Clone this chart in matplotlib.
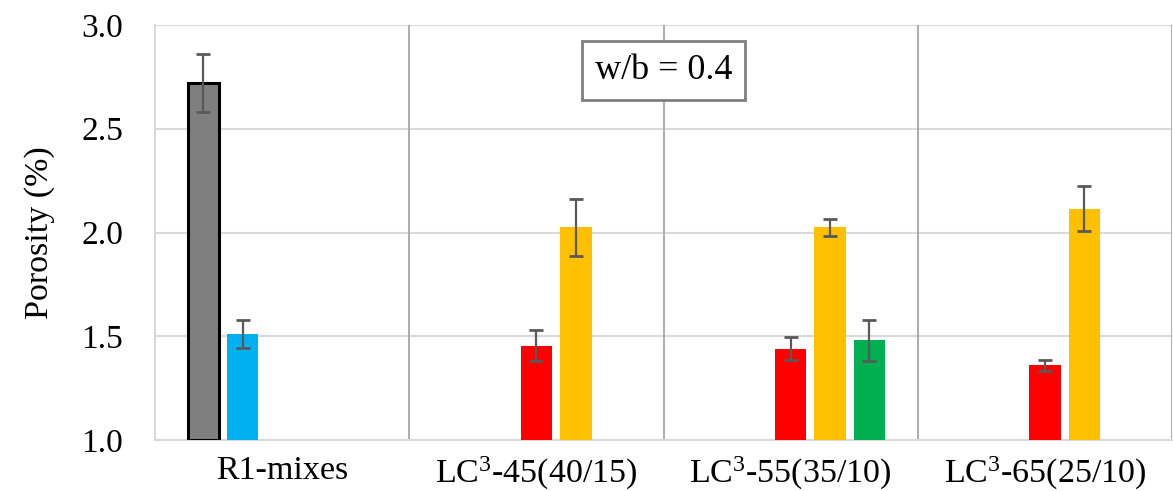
import matplotlib
matplotlib.use("Agg")
import matplotlib.pyplot as plt
import numpy as np

categories = ["R1-mixes", "LC$^{3}$-45(40/15)", "LC$^{3}$-55(35/10)", "LC$^{3}$-65(25/10)"]
nan = np.nan
grey_vals = [2.72, nan, nan, nan]
blue_vals = [1.51, nan, nan, nan]
red_vals = [nan, 1.455, 1.44, 1.36]
yellow_vals = [nan, 2.025, 2.025, 2.115]
green_vals = [nan, nan, 1.48, nan]
grey_err = [0.14, nan, nan, nan]
blue_err = [0.068, nan, nan, nan]
red_err = [nan, 0.075, 0.055, 0.026]
yellow_err = [nan, 0.137, 0.04, 0.107]
green_err = [nan, nan, 0.098, nan]
yticks = [1.0, 1.5, 2.0, 2.5, 3.0]
annotation = "w/b = 0.4"

plt.rcParams['font.family'] = ['Liberation Serif', 'DejaVu Serif']
plt.rcParams['mathtext.fontset'] = 'custom'
plt.rcParams['mathtext.rm'] = 'Liberation Serif'
plt.rcParams['mathtext.it'] = 'Liberation Serif'
plt.rcParams['mathtext.default'] = 'regular'

fig = plt.figure(figsize=(11.73, 4.91), dpi=100)
ax = fig.add_axes([155/1173, 1 - 440/491, 1017/1173, 415/491])

x = np.arange(len(categories))
slot = 0.155
width = 0.124
vals = [grey_vals, blue_vals, red_vals, yellow_vals, green_vals]
errs = [grey_err, blue_err, red_err, yellow_err, green_err]
colors = ["#7f7f7f", "#00b0f0", "#ff0000", "#ffc000", "#00b050"]
edges = ["black", "none", "none", "none", "none"]
lws = [2.2, 0, 0, 0, 0]

ax.set_axisbelow(True)
for i, (v, e, c, ec, lw) in enumerate(zip(vals, errs, colors, edges, lws)):
    pos = x + (i - 2) * slot
    ax.bar(pos, np.array(v) - 1.0, bottom=1.0, width=width, color=c,
           edgecolor=ec, linewidth=lw, zorder=3)
    ax.errorbar(pos, v, yerr=e, fmt="none", ecolor="#595959",
                elinewidth=1.6, capsize=5, capthick=2, zorder=4)

ax.set_xlim(-0.5, 3.5)
ax.set_ylim(1.0, 3.0)
ax.set_yticks(yticks)
ax.set_yticklabels([f"{t:.1f}" for t in yticks])
ax.set_xticks(x)
ax.set_xticklabels(categories)
ax.tick_params(axis='y', length=0, pad=23, labelsize=24)
ax.tick_params(axis='x', length=0, pad=11, labelsize=24.5)
ax.set_ylabel("Porosity (%)", fontsize=24.5, labelpad=19)

ax.yaxis.grid(True, color="#d9d9d9", linewidth=1.5, zorder=0)
for s in ["top", "right"]:
    ax.spines[s].set_visible(False)
for s in ["left", "bottom"]:
    ax.spines[s].set_color("#d9d9d9")
    ax.spines[s].set_linewidth(1.5)
for sep in [0.5, 1.5, 2.5, 3.5]:
    ax.axvline(sep, color="#a6a6a6", linewidth=1.3, zorder=1)

ax.text(1.5, 2.78, annotation, ha="center", va="center", fontsize=26,
        zorder=5,
        bbox=dict(boxstyle="square,pad=0.36", facecolor="white",
                  edgecolor="#7f7f7f", linewidth=2))

fig.savefig("out.png", dpi=100)
